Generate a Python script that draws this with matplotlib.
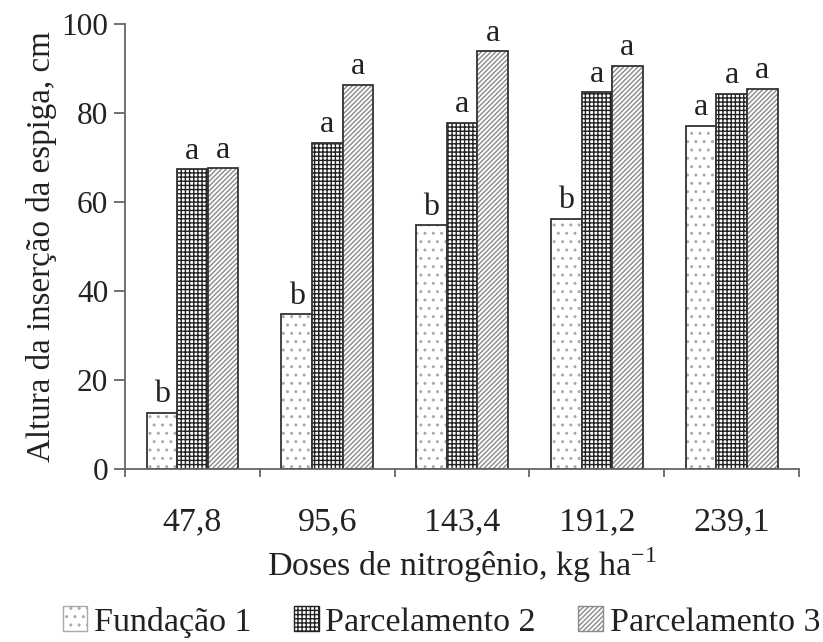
import numpy as np
import matplotlib
matplotlib.use('Agg')
import matplotlib.pyplot as plt

doses = ['47,8', '95,6', '143,4', '191,2', '239,1']
fundacao = [12.6, 34.8, 54.8, 56.2, 77.1]
parc2 = [67.4, 73.3, 77.8, 84.7, 84.3]
parc3 = [67.6, 86.3, 93.9, 90.6, 85.4]
letras_f = ['b', 'b', 'b', 'b', 'a']
letras_p2 = ['a', 'a', 'a', 'a', 'a']
letras_p3 = ['a', 'a', 'a', 'a', 'a']

plt.rcParams['font.family'] = ['Liberation Serif', 'DejaVu Serif']
plt.rcParams['mathtext.fontset'] = 'custom'
plt.rcParams['mathtext.rm'] = 'Liberation Serif'
plt.rcParams['hatch.linewidth'] = 1.0

fig = plt.figure(figsize=(8.23, 6.42), dpi=100)
ax = fig.add_axes([0.1519, 0.2695, 0.819, 0.693])

x = np.arange(len(doses))
w = 0.227
series = [
    (fundacao, letras_f, 'Fundação 1', '..', '#aaaaaa', -w),
    (parc2, letras_p2, 'Parcelamento 2', '++++', '#222222', 0),
    (parc3, letras_p3, 'Parcelamento 3', '///////', '#8a8a8a', w),
]
for vals, letras, nome, hatch, hcol, off in series:
    ax.bar(x + off, vals, w, facecolor='white', edgecolor=hcol,
           hatch=hatch, linewidth=0, label=nome)
    ax.bar(x + off, vals, w, facecolor='none', edgecolor='#333333', linewidth=1.3)
    for xi, v, l in zip(x + off, vals, letras):
        ax.text(xi, v + 0.8, l, ha='center', va='bottom', fontsize=23, color='#222222')

ax.set_xlim(-0.5, 4.5)
ax.set_ylim(0, 100)
ax.set_yticks([0, 20, 40, 60, 80, 100])
ax.set_xticks(x)
ax.set_xticklabels(doses)
ax.set_xticks(np.arange(-0.5, 4.6, 1.0), minor=True)
ax.tick_params(axis='x', which='major', length=0, labelsize=24.5, pad=27, labelcolor='#222222')
ax.tick_params(axis='x', which='minor', length=6, width=1.3, direction='out', color='#666666')
ax.tick_params(axis='y', labelsize=22.5, length=8, width=1.3, color='#666666', labelcolor='#222222', pad=4)
for s in ['top', 'right']:
    ax.spines[s].set_visible(False)
for s in ['left', 'bottom']:
    ax.spines[s].set_color('#666666')
    ax.spines[s].set_linewidth(1.3)

ax.set_ylabel('Altura da inserção da espiga, cm', fontsize=23.8, labelpad=3, color='#222222')
ax.set_xlabel('Doses de nitrogênio, kg ha$^{\\mathregular{-1}}$', fontsize=24.5, labelpad=6, color='#222222')

handles = [plt.Rectangle((0, 0), 1, 1, facecolor='white', edgecolor=c, hatch=h, linewidth=1)
           for _, _, _, h, c, _ in series]
leg = fig.legend(handles, [s[2] for s in series], loc='center',
                 bbox_to_anchor=(0.5365, 1 - 622 / 642), ncol=3, frameon=False, fontsize=24.5,
                 handlelength=0.72, handleheight=0.72, handletextpad=0.2, columnspacing=1.25,
                 borderpad=0, borderaxespad=0, labelcolor='#222222')

fig.savefig('out.png', dpi=100)
